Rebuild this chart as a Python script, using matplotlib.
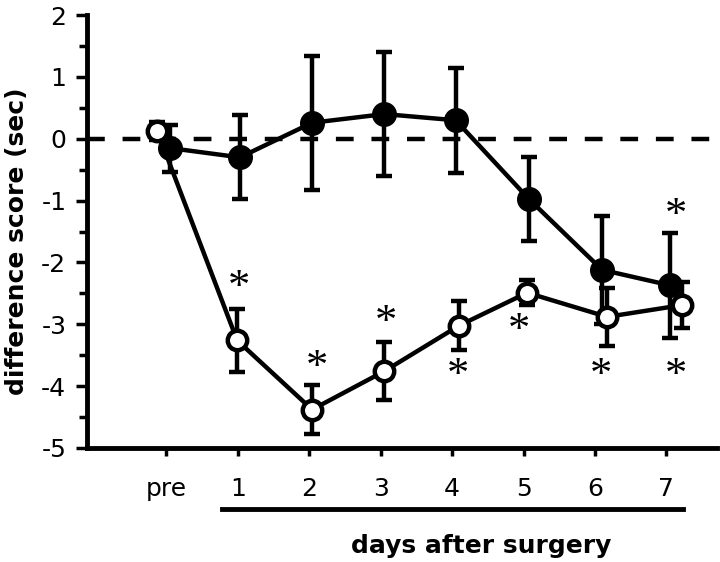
import matplotlib
matplotlib.use('Agg')
import matplotlib.pyplot as plt
from matplotlib.lines import Line2D

# x tick labels
day_labels = ['pre', '1', '2', '3', '4', '5', '6', '7']

# filled circles (slightly offset to the right of the tick)
x_closed = [0.05, 1.03, 2.04, 3.05, 4.05, 5.08, 6.10, 7.05]
y_closed = [-0.15, -0.30, 0.26, 0.40, 0.30, -0.98, -2.12, -2.37]
err_closed = [0.38, 0.68, 1.08, 1.00, 0.85, 0.68, 0.87, 0.85]

# open circles
x_open = [-0.13, 0.99, 2.04, 3.05, 4.10, 5.05, 6.17, 7.22]
y_open = [0.13, -3.26, -4.38, -3.76, -3.02, -2.49, -2.88, -2.69]
err_open = [0.15, 0.51, 0.39, 0.47, 0.40, 0.20, 0.47, 0.37]

# significance asterisks
star_x = [1.01, 2.11, 3.07, 4.08, 4.94, 6.09, 7.13, 7.13]
star_y = [-2.34, -3.63, -2.91, -3.76, -3.03, -3.76, -3.76, -1.17]

plt.rcParams['axes.unicode_minus'] = False
plt.rcParams['font.family'] = 'DejaVu Sans'

fig = plt.figure(figsize=(7.2, 5.62), dpi=100)
ax = fig.add_axes([0.121, 0.203, 0.875, 0.770])

ax.axhline(0, color='black', lw=3.2, linestyle=(0, (4.0, 4.0)), zorder=1)

# closed error bars first, so open circles sit over them
ax.errorbar(x_closed, y_closed, yerr=err_closed, fmt='none', ecolor='black',
            elinewidth=3.2, capsize=6, capthick=3.2, zorder=2)

ax.errorbar(x_open, y_open, yerr=err_open, fmt='none', ecolor='black',
            elinewidth=3.2, capsize=6, capthick=3.2, zorder=3)
ax.plot(x_open, y_open, color='black', lw=3.2, marker='o', ms=14,
        mfc='white', mec='black', mew=3.2, zorder=3)

ax.plot(x_closed, y_closed, color='black', lw=3.2, marker='o', ms=17,
        mfc='black', mec='black', mew=1, zorder=4)

for sx, sy in zip(star_x, star_y):
    ax.text(sx, sy, '*', fontsize=32, family='Liberation Serif',
            ha='center', va='center_baseline', zorder=5)

ax.set_xlim(-1.11, 7.71)
ax.set_ylim(-5, 2)
ax.set_xticks(range(len(day_labels)))
ax.set_xticklabels(day_labels)
ax.set_yticks(range(-5, 3))
ax.set_yticks([v + 0.5 for v in range(-5, 2)], minor=True)

for side in ['top', 'right']:
    ax.spines[side].set_visible(False)
for side in ['left', 'bottom']:
    ax.spines[side].set_linewidth(3.5)

ax.tick_params(axis='both', which='major', width=2.5, labelsize=18)
ax.tick_params(axis='y', which='major', length=8, pad=7)
ax.tick_params(axis='y', which='minor', length=5.5, width=2.5)
ax.tick_params(axis='x', which='major', length=6, pad=15)

fig.text(17 / 720, 1 - 241 / 562, 'difference score (sec)', rotation=90,
         ha='center', va='center', fontsize=18, fontweight='bold')
fig.text(481 / 720, 1 - 546 / 562, 'days after surgery',
         ha='center', va='center', fontsize=18, fontweight='bold')
fig.add_artist(Line2D([222 / 720, 683 / 720], [1 - 509 / 562] * 2,
                      color='black', lw=3.5))

fig.savefig('out.png', dpi=100)
